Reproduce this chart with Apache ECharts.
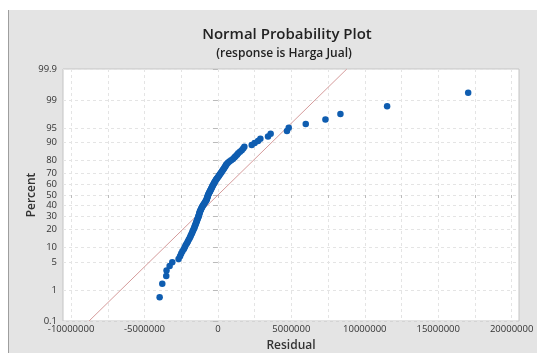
<!DOCTYPE html>
<html><head><meta charset="utf-8">
<script src="https://cdn.jsdelivr.net/npm/echarts@6/dist/echarts.min.js"></script>
<style>html,body{margin:0;padding:0;background:#fff}#c{width:537px;height:353px}</style>
</head><body><div id="c"></div>
<script>
// Sorted residuals (Harga Jual)
const residuals = [
  -3970000, -3790000, -3520000, -3500000, -3290000, -3110000, -2680000, -2580000, -2500000, -2420000,
  -2320000, -2250000, -2190000, -2110000, -2050000, -1990000, -1930000, -1880000, -1840000, -1790000,
  -1750000, -1710000, -1670000, -1630000, -1600000, -1570000, -1540000, -1510000, -1480000, -1450000,
  -1430000, -1400000, -1370000, -1340000, -1320000, -1300000, -1280000, -1260000, -1240000, -1220000,
  -1190000, -1160000, -1130000, -1100000, -1070000, -1030000, -990000, -950000, -910000, -870000,
  -830000, -790000, -770000, -750000, -730000, -710000, -690000, -670000, -640000, -610000,
  -580000, -550000, -520000, -490000, -460000, -430000, -400000, -370000, -340000, -300000,
  -270000, -240000, -200000, -160000, -120000, -80000, -30000, 20000, 70000, 110000,
  160000, 210000, 260000, 310000, 360000, 410000, 460000, 510000, 550000, 600000,
  680000, 780000, 900000, 1020000, 1120000, 1200000, 1300000, 1380000, 1500000, 1620000,
  1720000, 1800000, 2300000, 2500000, 2730000, 2890000, 3410000, 3590000, 4700000, 4820000,
  5980000, 7320000, 8340000, 11520000, 17040000
];
const percentTicks = [0.1, 1, 5, 10, 20, 30, 40, 50, 60, 70, 80, 90, 95, 99, 99.9];
const percentTickLabels = ['0.1', '1', '5', '10', '20', '30', '40', '50', '60', '70', '80', '90', '95', '99', '99.9'];
const xTickLabels = [-10000000, -5000000, 0, 5000000, 10000000, 15000000, 20000000];
const xGridStep = 2500000;
const xMin = -10550000, xMax = 20500000;
const fitMean = 0, fitSigma = 2840000;

function normInv(p){
  const a=[-3.969683028665376e+01,2.209460984245205e+02,-2.759285104469687e+02,1.383577518672690e+02,-3.066479806614716e+01,2.506628277459239e+00];
  const b=[-5.447609879822406e+01,1.615858368580409e+02,-1.556989798598866e+02,6.680131188771972e+01,-1.328068155288572e+01];
  const c=[-7.784894002430293e-03,-3.223964580411365e-01,-2.400758277161838e+00,-2.549732539343734e+00,4.374664141464968e+00,2.938163982698783e+00];
  const d=[7.784695709041462e-03,3.224671290700398e-01,2.445134137142996e+00,3.754408661907416e+00];
  const pl=0.02425, ph=1-pl; let q,r;
  if(p<pl){q=Math.sqrt(-2*Math.log(p));return (((((c[0]*q+c[1])*q+c[2])*q+c[3])*q+c[4])*q+c[5])/((((d[0]*q+d[1])*q+d[2])*q+d[3])*q+1);}
  if(p<=ph){q=p-0.5;r=q*q;return (((((a[0]*r+a[1])*r+a[2])*r+a[3])*r+a[4])*r+a[5])*q/(((((b[0]*r+b[1])*r+b[2])*r+b[3])*r+b[4])*r+1);}
  q=Math.sqrt(-2*Math.log(1-p));return -(((((c[0]*q+c[1])*q+c[2])*q+c[3])*q+c[4])*q+c[5])/((((d[0]*q+d[1])*q+d[2])*q+d[3])*q+1);
}

const n = residuals.length;
const points = residuals.map((r, i) => [r, normInv((i + 1 - 0.3) / (n + 0.4))]);
const zTicks = percentTicks.map(p => normInv(p / 100));
const yMin = zTicks[0], yMax = zTicks[zTicks.length - 1];
const fitLine = [[fitMean + fitSigma * yMin, yMin], [fitMean + fitSigma * yMax, yMax]];
const xGrid = [];
for (let v = xTickLabels[0]; v <= xTickLabels[xTickLabels.length - 1] + 1; v += xGridStep) xGrid.push(v);

const FONT = 'Open Sans';
const chart = echarts.init(document.getElementById('c'), null, {renderer: 'canvas'});
chart.setOption({
  backgroundColor: '#ffffff',
  animation: false,
  graphic: [
    {type: 'rect', z: -100, silent: true, shape: {x: 8, y: 10, width: 540, height: 350}, style: {fill: '#e4e4e4'}},
    {type: 'line', z: -99, silent: true, shape: {x1: 8.5, y1: 10, x2: 8.5, y2: 353}, style: {stroke: '#9e9e9e', lineWidth: 1}}
  ],
  title: [
    {text: 'Normal Probability Plot', left: 282, top: 22, textAlign: 'center',
     textStyle: {fontFamily: FONT, fontSize: 15, fontWeight: 600, color: '#222'}},
    {text: '(response is Harga Jual)', left: 279, top: 43, textAlign: 'center',
     textStyle: {fontFamily: FONT, fontSize: 12, fontWeight: 600, color: '#222'}}
  ],
  grid: {left: 63, right: 18, top: 69, bottom: 32, outerBoundsMode: 'none', containLabel: false,
    show: true, backgroundColor: '#ffffff', borderColor: '#c4c4c4', borderWidth: 1},
  xAxis: {
    type: 'value', min: xMin, max: xMax,
    name: 'Residual', nameLocation: 'middle', nameGap: 19, nameMoveOverlap: false,
    nameTextStyle: {fontFamily: FONT, fontSize: 12, color: '#333', fontWeight: 600},
    axisLine: {show: false},
    axisTick: {show: true, customValues: xGrid, length: 3, lineStyle: {color: '#bbb'}},
    axisLabel: {customValues: xTickLabels, margin: 3, fontFamily: FONT, fontSize: 9.5, color: '#333',
      formatter: v => String(Math.round(v))},
    splitLine: {show: true, lineStyle: {color: '#e4e4e4', type: [3, 3], width: 1}}
  },
  yAxis: {
    type: 'value', min: yMin, max: yMax,
    name: 'Percent', nameLocation: 'middle', nameGap: 25, nameRotate: 90, nameMoveOverlap: false,
    nameTextStyle: {fontFamily: FONT, fontSize: 12, color: '#333', fontWeight: 600},
    axisLine: {show: false},
    axisTick: {show: true, customValues: zTicks, length: 5, lineStyle: {color: '#bbb'}},
    axisLabel: {customValues: zTicks, margin: 6, fontFamily: FONT, fontSize: 9.5, color: '#333',
      formatter: v => {
        let best = 0;
        zTicks.forEach((z, i) => { if (Math.abs(z - v) < Math.abs(zTicks[best] - v)) best = i; });
        return percentTickLabels[best];
      }},
    splitLine: {show: true, lineStyle: {color: '#e4e4e4', type: [3, 3], width: 1}}
  },
  series: [
    {type: 'line', data: fitLine, symbol: 'none', lineStyle: {color: '#d59b9b', width: 1}, z: 2, silent: true},
    {type: 'scatter', data: points, symbolSize: 6.5, itemStyle: {color: '#0f5db0', opacity: 1}, z: 3}
  ]
});
</script></body></html>
